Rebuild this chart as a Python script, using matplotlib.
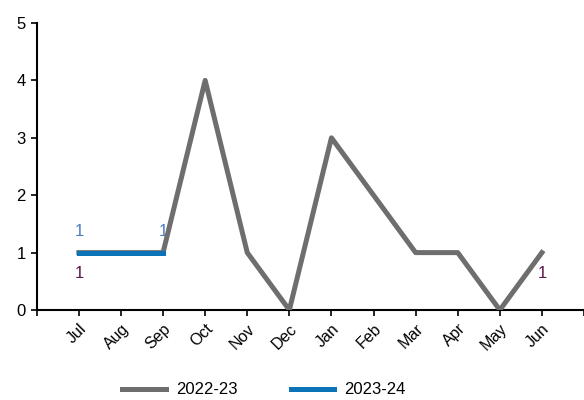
import matplotlib
matplotlib.use('Agg')
import matplotlib.pyplot as plt

months = ["Jul", "Aug", "Sep", "Oct", "Nov", "Dec", "Jan", "Feb", "Mar", "Apr", "May", "Jun"]
fy2223 = [1, 1, 1, 4, 1, 0, 3, 2, 1, 1, 0, 1]
fy2324 = [1, 1, 1]
names = ["2022-23", "2023-24"]

gray = "#6e6e6e"
blue = "#0b74b9"
plt.rcParams['font.family'] = ['Liberation Sans', 'DejaVu Sans']

fig = plt.figure(figsize=(5.84, 4.0), dpi=100)
ax = fig.add_axes([0.063, 0.225, 0.937, 0.7175])

x1 = list(range(len(fy2223)))
x2 = list(range(len(fy2324)))
ax.plot(x1, fy2223, color=gray, lw=3.6, label=names[0], zorder=3)
ax.plot(x2, fy2324, color=blue, lw=3.6, label=names[1], zorder=4)

# data labels: first and last point of each series
ax.text(x2[0], fy2324[0] + 0.36, str(fy2324[0]), color="#4a7cc4", ha='center', va='center', fontsize=12, zorder=2)
ax.text(x2[-1], fy2324[-1] + 0.36, str(fy2324[-1]), color="#4a7cc4", ha='center', va='center', fontsize=12, zorder=2)
ax.text(x1[0], fy2223[0] - 0.36, str(fy2223[0]), color="#5a1646", ha='center', va='center', fontsize=12, zorder=2)
ax.text(x1[-1], fy2223[-1] - 0.36, str(fy2223[-1]), color="#5a1646", ha='center', va='center', fontsize=12, zorder=2)

ax.set_xlim(-1, 12)
ax.set_ylim(0, 5)
ax.set_xticks(range(-1, 13))
ax.set_xticklabels([""] + months + [""], rotation=45, ha='right', rotation_mode='anchor', fontsize=11.5)
ax.set_yticks(range(0, 6))
ax.tick_params(axis='y', labelsize=12, length=4, width=1.2, pad=4)
ax.tick_params(axis='x', length=4, width=1.2, pad=4)
ax.spines['top'].set_visible(False)
ax.spines['right'].set_visible(False)
ax.spines['left'].set_linewidth(1.5)
ax.spines['bottom'].set_linewidth(1.5)

ax.legend(loc='upper center', bbox_to_anchor=(0.415, -0.2), ncol=2, frameon=False,
          fontsize=12, handlelength=2.6, columnspacing=3.2, handletextpad=0.6)

fig.savefig("out.png", dpi=100)
